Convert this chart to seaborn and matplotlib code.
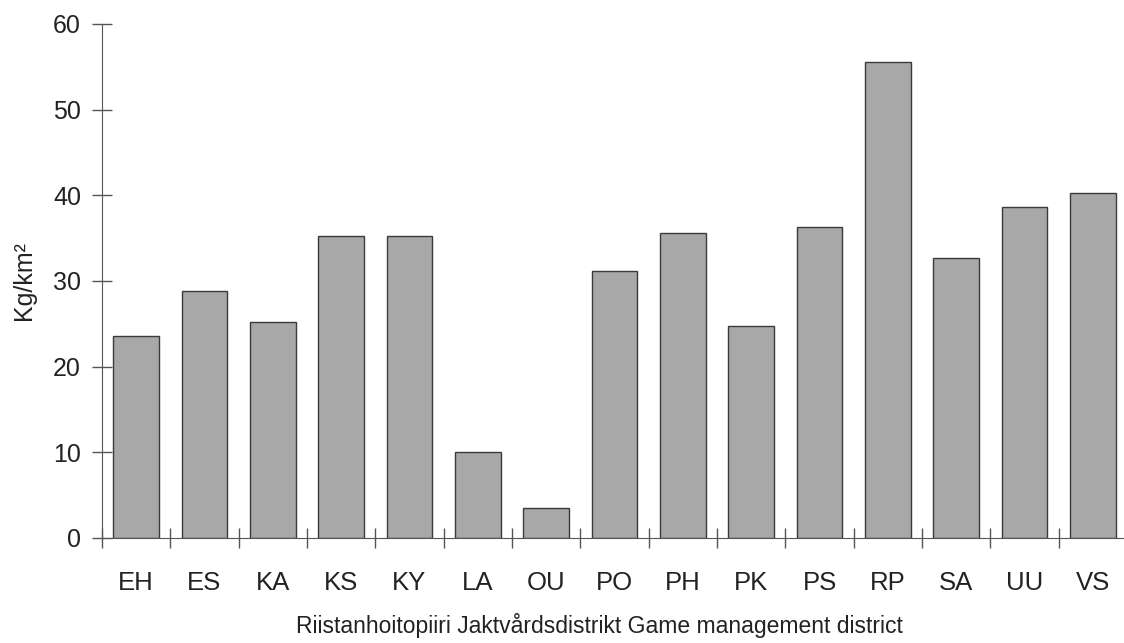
import numpy as np
import pandas as pd
import seaborn as sns
import matplotlib.pyplot as plt
from matplotlib.ticker import FixedLocator

# ----- Data -----
districts = ['EH', 'ES', 'KA', 'KS', 'KY', 'LA', 'OU', 'PO', 'PH', 'PK', 'PS', 'RP', 'SA', 'UU', 'VS']
kg_per_km2 = [23.6, 28.8, 25.2, 35.2, 35.2, 10.0, 3.5, 31.2, 35.6, 24.7, 36.3, 55.6, 32.7, 38.6, 40.3]
y_ticks = [0, 10, 20, 30, 40, 50, 60]

df = pd.DataFrame({'district': districts, 'value': kg_per_km2})

sns.set_style('ticks')
plt.rcParams['font.family'] = ['Liberation Sans', 'DejaVu Sans']

fig = plt.figure(figsize=(11.24, 6.43), dpi=100)
ax = fig.add_axes([0.0907, 0.1633, 0.912, 0.7994])

sns.barplot(data=df, x='district', y='value', color='#a8a8a8', edgecolor='#3a3a3a',
            linewidth=1.0, width=0.67, saturation=1, ax=ax)

ax.set_ylim(0, 60)
ax.set_xlim(-0.5, 14.5)
ax.set_yticks(y_ticks)

# category labels sit between boundary ticks
ax.xaxis.set_minor_locator(FixedLocator(np.arange(-0.5, len(districts), 1)))
ax.tick_params(axis='x', which='major', length=0, pad=24, labelsize=18.5, colors='#222222')
ax.tick_params(axis='x', which='minor', length=14, direction='inout', width=1, color='#555555')
ax.tick_params(axis='y', length=14, direction='inout', width=1, color='#555555', pad=8, labelsize=18, labelcolor='#222222')

ax.set_xlabel('Riistanhoitopiiri Jaktvårdsdistrikt Game management district', fontsize=16.5, color='#222222')
ax.xaxis.set_label_coords(0.485, -0.145)
ax.set_ylabel('Kg/km²', fontsize=18, color='#222222', labelpad=12)

sns.despine(ax=ax, right=True, top=True)
ax.spines['left'].set_color('#555555')
ax.spines['bottom'].set_color('#555555')

fig.savefig('out.png', dpi=100)
